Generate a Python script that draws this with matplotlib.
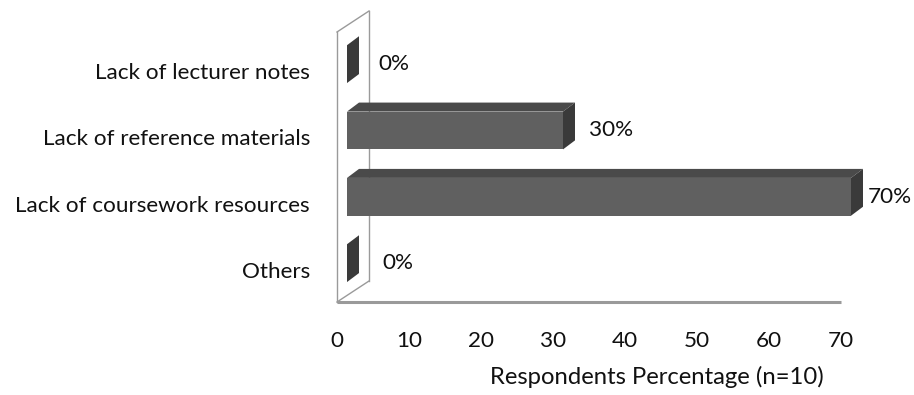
import numpy as np
import matplotlib
matplotlib.use("Agg")
import matplotlib.pyplot as plt
from matplotlib.patches import Polygon

# ---- data ----
categories = ["Others", "Lack of coursework resources",
              "Lack of reference materials", "Lack of lecturer notes"]
values = [0, 70, 30, 0]
value_labels = ["0%", "70%", "30%", "0%"]
xticks = [0, 10, 20, 30, 40, 50, 60, 70]
xlabel = "Respondents Percentage (n=10)"

plt.rcParams["font.family"] = ["Lato", "DejaVu Sans"]
FS = 16.2
TXT = "#111111"

W, H = 914, 395
fig = plt.figure(figsize=(W / 100, H / 100), dpi=100)

# front plane of the 3d box, in pixels (from top-left)
left_px, right_px, top_px, floor_px = 337, 841, 32, 302
ax = fig.add_axes([left_px / W, 1 - floor_px / H,
                   (right_px - left_px) / W, (floor_px - top_px) / H])
ymin, ymax = -0.48, 3.59
ax.set_xlim(0, 70)
ax.set_ylim(ymin, ymax)

# pixel -> data unit helpers
sx = 70 / (right_px - left_px)
sy = (ymax - ymin) / (floor_px - top_px)

def px(dx, dy):
    return dx * sx, dy * sy

# depth offsets (pixels, right / up)
bar_off = px(10, 7)
bar_depth = px(12, 9)
wall_depth = px(32, 21)

front_col = "#606060"
top_col = "#4a4a4a"
side_col = "#3a3a3a"
wall_col = "#9a9a9a"

# left wall + floor edge
wx, wy = wall_depth
ax.plot([0, 0], [ymin, ymax], color=wall_col, lw=1, clip_on=False)
ax.plot([wx, wx], [ymin + wy, ymax + wy], color=wall_col, lw=1, clip_on=False)
ax.plot([0, wx], [ymax, ymax + wy], color=wall_col, lw=1, clip_on=False)
ax.plot([0, wx], [ymin, ymin + wy], color=wall_col, lw=1, clip_on=False)
ax.plot([0, 70], [ymin, ymin], color=wall_col, lw=2.2, clip_on=False,
        solid_capstyle="butt")

# bars
h = 0.57
ox, oy = bar_off
dx, dy = bar_depth
ypos = np.arange(len(categories))
label_dx = [35, 17, 26, 31]  # label gap in pixels
for i, (y, v) in enumerate(zip(ypos, values)):
    x0, x1 = ox, ox + v
    yb, yt = y + oy - h / 2, y + oy + h / 2
    if v > 0:
        ax.barh(y + oy, v, left=ox, height=h, color=front_col,
                edgecolor="none", zorder=3, clip_on=False)
        ax.add_patch(Polygon([(x0, yt), (x1, yt), (x1 + dx, yt + dy), (x0 + dx, yt + dy)],
                             closed=True, facecolor=top_col, edgecolor="none",
                             zorder=3, clip_on=False))
    ax.add_patch(Polygon([(x1, yb), (x1, yt), (x1 + dx, yt + dy), (x1 + dx, yb + dy)],
                         closed=True, facecolor=side_col, edgecolor="none",
                         zorder=3, clip_on=False))
    ax.text(x1 + label_dx[i] * sx, y + oy, value_labels[i], fontsize=FS,
            color=TXT, ha="left", va="center", clip_on=False)

for s in ax.spines.values():
    s.set_visible(False)
ax.set_yticks(ypos)
ax.set_yticklabels(categories, fontsize=FS, color=TXT)
ax.set_xticks(xticks)
ax.set_xticklabels([str(t) for t in xticks], fontsize=FS, color=TXT)
ax.tick_params(axis="y", length=0, pad=19.5)
ax.tick_params(axis="x", length=0, pad=21)
ax.set_xlabel(xlabel, fontsize=17.2, color=TXT)
ax.xaxis.label.set_va("center")
ax.xaxis.set_label_coords(0.635, -0.278)

fig.savefig("out.png", dpi=100)
